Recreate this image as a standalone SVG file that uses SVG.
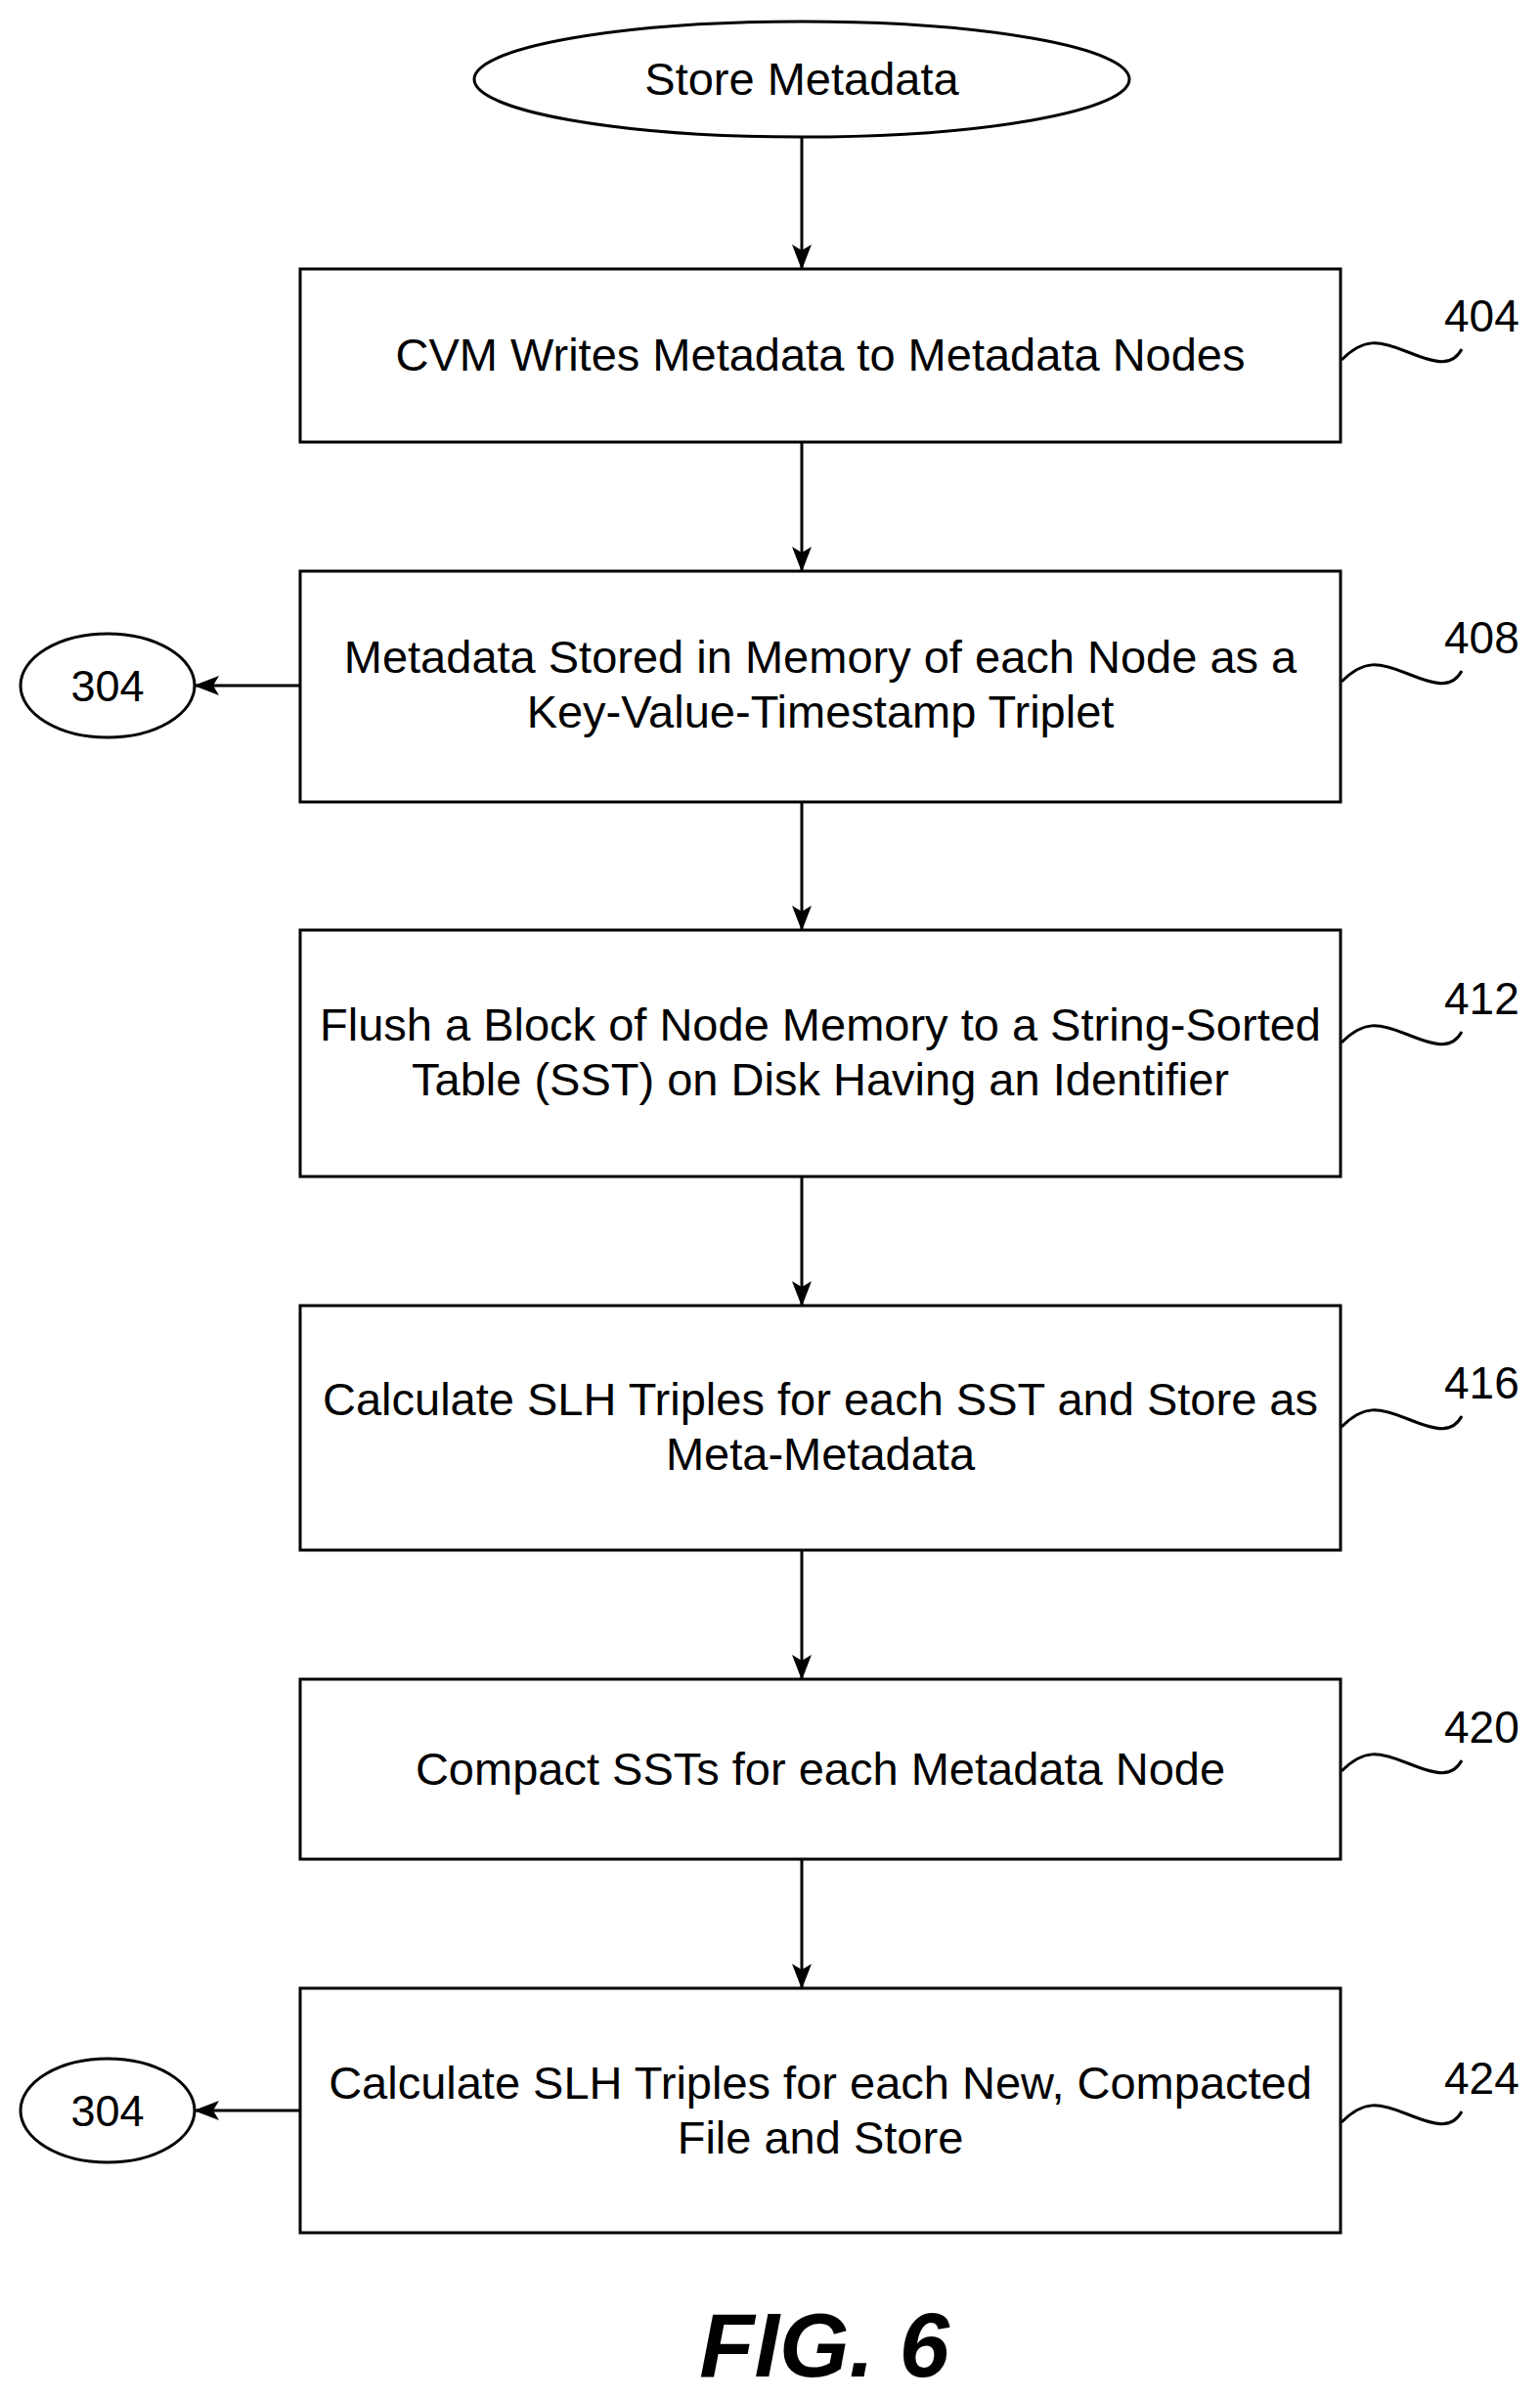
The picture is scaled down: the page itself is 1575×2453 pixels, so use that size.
<svg xmlns="http://www.w3.org/2000/svg" width="1575" height="2453" viewBox="0 0 1575 2453">
<style>
.s{fill:none;stroke:#000;stroke-width:3}
.t{font-family:"Liberation Sans",Arial,sans-serif;font-size:47px;text-anchor:middle;fill:#000}
.c{font-family:"Liberation Sans",Arial,sans-serif;font-size:45px;text-anchor:middle;fill:#000}
.r{font-family:"Liberation Sans",Arial,sans-serif;font-size:46px;fill:#000}
</style>
<defs><marker id="b" markerWidth="26" markerHeight="20" refX="25" refY="10" orient="auto" markerUnits="userSpaceOnUse"><path d="M0,0 L26,10 L0,20 L6,10 Z" fill="#000"/></marker></defs>
<rect width="1575" height="2453" fill="#fff"/>
<g id="start"><ellipse class="s" cx="820" cy="81" rx="335" ry="59"/><text class="t" x="820" y="97">Store Metadata</text></g>
<g id="n404"><rect class="s" x="307" y="275" width="1064" height="177"/><text class="t" x="839" y="379">CVM Writes Metadata to Metadata Nodes</text><path class="s" d="M1372,368 C1395,345 1410,348 1440,360 S1485,375 1495,357"/><text class="r" x="1477" y="339">404</text></g>
<g id="n408"><rect class="s" x="307" y="584" width="1064" height="236"/><text class="t" x="839" y="688">Metadata Stored in Memory of each Node as a</text><text class="t" x="839" y="744">Key-Value-Timestamp Triplet</text><path class="s" d="M1372,697 C1395,674 1410,677 1440,689 S1485,704 1495,686"/><text class="r" x="1477" y="668">408</text></g>
<g id="n412"><rect class="s" x="307" y="951" width="1064" height="252"/><text class="t" x="839" y="1064">Flush a Block of Node Memory to a String-Sorted</text><text class="t" x="839" y="1120">Table (SST) on Disk Having an Identifier</text><path class="s" d="M1372,1066 C1395,1043 1410,1046 1440,1058 S1485,1073 1495,1055"/><text class="r" x="1477" y="1037">412</text></g>
<g id="n416"><rect class="s" x="307" y="1335" width="1064" height="250"/><text class="t" x="839" y="1447">Calculate SLH Triples for each SST and Store as</text><text class="t" x="839" y="1503">Meta-Metadata</text><path class="s" d="M1372,1459 C1395,1436 1410,1439 1440,1451 S1485,1466 1495,1448"/><text class="r" x="1477" y="1430">416</text></g>
<g id="n420"><rect class="s" x="307" y="1717" width="1064" height="184"/><text class="t" x="839" y="1825">Compact SSTs for each Metadata Node</text><path class="s" d="M1372,1811 C1395,1788 1410,1791 1440,1803 S1485,1818 1495,1800"/><text class="r" x="1477" y="1782">420</text></g>
<g id="n424"><rect class="s" x="307" y="2033" width="1064" height="250"/><text class="t" x="839" y="2146">Calculate SLH Triples for each New, Compacted</text><text class="t" x="839" y="2202">File and Store</text><path class="s" d="M1372,2170 C1395,2147 1410,2150 1440,2162 S1485,2177 1495,2159"/><text class="r" x="1477" y="2141">424</text></g>
<g id="c1"><ellipse class="s" cx="110" cy="701" rx="89" ry="53"/><text class="c" x="110" y="717">304</text></g>
<g id="c2"><ellipse class="s" cx="110" cy="2158" rx="89" ry="53"/><text class="c" x="110" y="2174">304</text></g>
<g id="connectors" class="s">
<path d="M820,140 V275" marker-end="url(#b)"/>
<path d="M820,452 V584" marker-end="url(#b)"/>
<path d="M820,820 V951" marker-end="url(#b)"/>
<path d="M820,1203 V1335" marker-end="url(#b)"/>
<path d="M820,1585 V1717" marker-end="url(#b)"/>
<path d="M820,1901 V2033" marker-end="url(#b)"/>
<path d="M307,701 H199" marker-end="url(#b)"/>
<path d="M307,2158 H199" marker-end="url(#b)"/>
</g>
<text x="843" y="2430" style="font-family:'Liberation Sans',Arial,sans-serif;font-size:92px;font-weight:bold;font-style:italic;text-anchor:middle">FIG. 6</text>
</svg>
